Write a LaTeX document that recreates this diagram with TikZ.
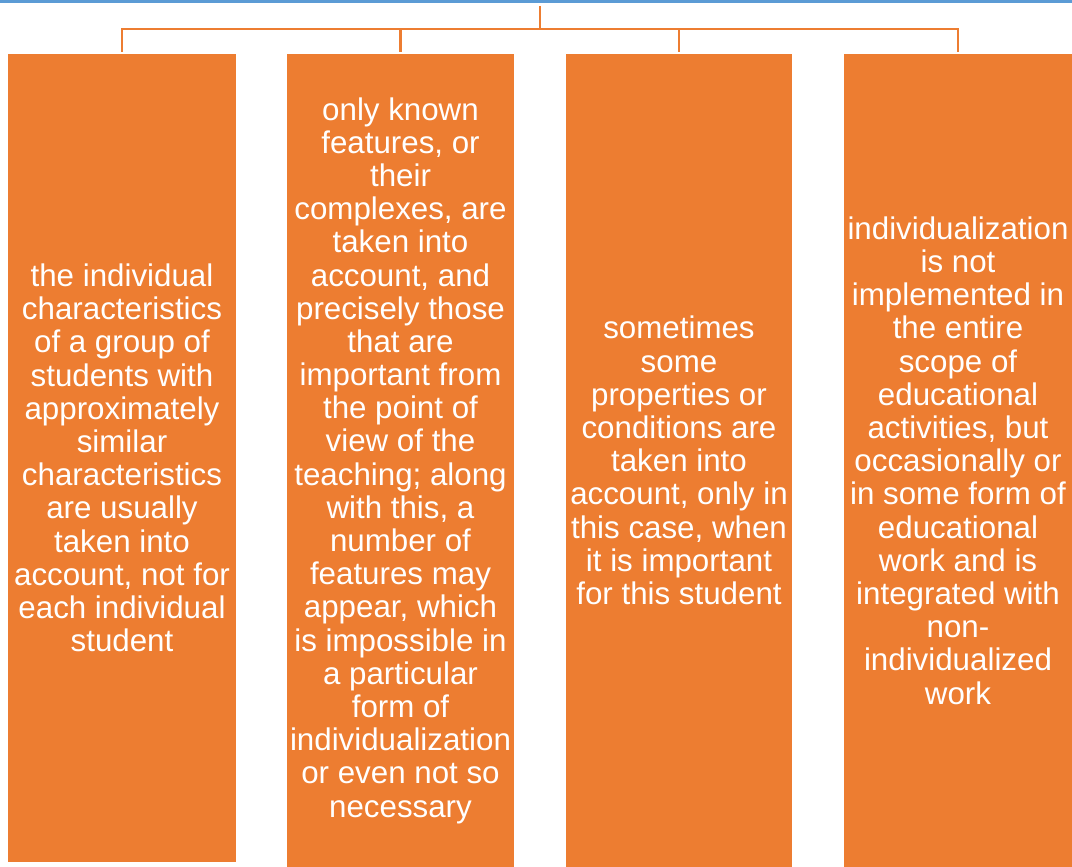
\documentclass[tikz,border=0pt]{standalone}
\usepackage{fontspec}
\setmainfont{Liberation Sans}
\definecolor{boxorange}{HTML}{ED7D31}
\definecolor{topblue}{HTML}{5B9BD5}
\tikzset{
  box/.style={fill=boxorange, draw=none, inner sep=0pt, text=white, align=center,
    font=\fontsize{31.3}{33.2}\selectfont},
  conn/.style={draw=boxorange, line width=2.5pt}
}
\begin{document}
\begin{tikzpicture}[x=1pt,y=-1pt]
\useasboundingbox (0,0) rectangle (1072,867);
\fill[topblue] (0,0) rectangle (1072,3);
\node[box, minimum width=228pt, minimum height=808pt] (b1) at (122,458) {the individual\\characteristics\\of a group of\\students with\\approximately\\similar\\characteristics\\are usually\\taken into\\account, not for\\each individual\\student};
\node[box, minimum width=227pt, minimum height=813pt] (b2) at (400.5,460.5) {only known\\features, or\\their\\complexes, are\\taken into\\account, and\\precisely those\\that are\\important from\\the point of\\view of the\\teaching; along\\with this, a\\number of\\features may\\appear, which\\is impossible in\\a particular\\form of\\individualization\\or even not so\\necessary};
\node[box, minimum width=226pt, minimum height=813pt] (b3) at (679,460.5) {sometimes\\some\\properties or\\conditions are\\taken into\\account, only in\\this case, when\\it is important\\for this student};
\node[box, minimum width=228pt, minimum height=813pt] (b4) at (958,460.5) {individualization\\is not\\implemented in\\the entire\\scope of\\educational\\activities, but\\occasionally or\\in some form of\\educational\\work and is\\integrated with\\non-\\individualized\\work};
\coordinate (top) at (540,6);
\coordinate (hub) at (540,29);
\draw[conn] (top) -- (hub);
\draw[conn, shorten <=2pt] (b1.north) |- (hub);
\draw[conn, shorten <=2pt] (b2.north) |- (hub);
\draw[conn, shorten <=2pt] (b3.north) |- (hub);
\draw[conn, shorten <=2pt] (b4.north) |- (hub);
\end{tikzpicture}
\end{document}
